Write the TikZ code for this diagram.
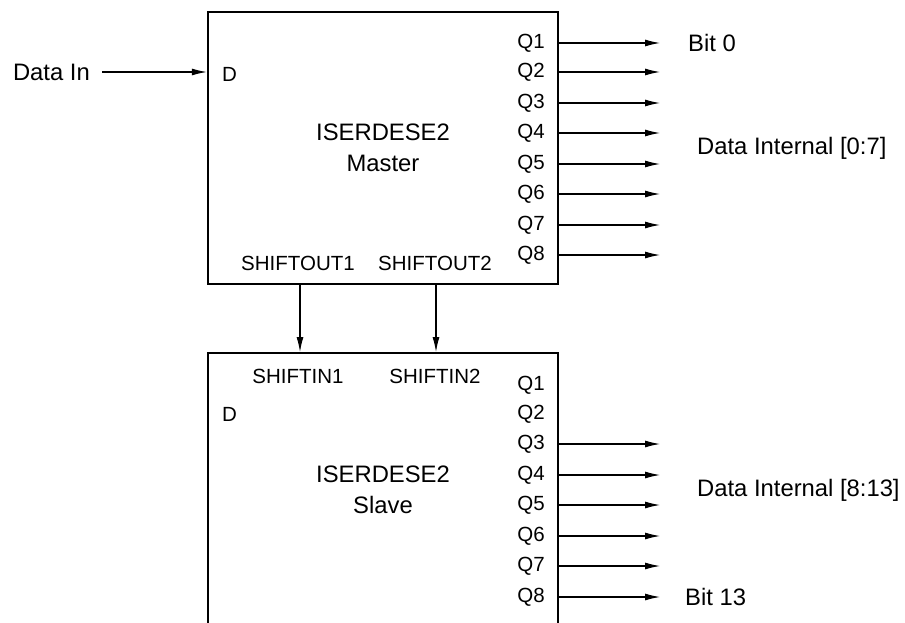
\documentclass[tikz,border=0pt]{standalone}
\usepackage{fontspec}
\setmainfont{Liberation Sans}
\usetikzlibrary{arrows.meta}
\begin{document}
\begin{tikzpicture}[x=1pt,y=-1pt,
  lbl/.style={inner sep=0pt,font=\fontsize{20.5}{23}\selectfont},
  big/.style={inner sep=0pt,font=\fontsize{23.8}{31}\selectfont,align=center},
  blk/.style={draw,line width=2.4pt},
  sig/.style={line width=1.1pt,-{Latex[length=15pt,width=7pt]}}]
\useasboundingbox (0,0) rectangle (905,623);
% master block
\node[blk,minimum width=350pt,minimum height=272pt,inner sep=0pt] (master) at (383,148) {};
\node[big] (mtext) at (383,148) {ISERDESE2\\Master};
% slave block (open at bottom)
\coordinate (sNW) at (208,353);
\coordinate (sNE) at (558,353);
\coordinate (sSW) at (208,640);
\coordinate (sSE) at (558,640);
\draw[line width=2.4pt] (sSW) -- (sNW) -- (sNE) -- (sSE);
\node[big] (stext) at (383,490) {ISERDESE2\\Slave};
% Data in
\node[big,anchor=east] (datain) at (90,72) {Data In};
\node[lbl,anchor=west] (md) at (222,74) {D};
\draw[sig,shorten <=12pt] (datain.east) -- (master.west |- datain.east);
\node[lbl,anchor=west] (sd) at (222,414) {D};
% master outputs
\foreach \i/\y in {1/43,2/72,3/103,4/133,5/164,6/194,7/225,8/255}{
  \node[lbl,anchor=east] (mq\i) at (545,\y) {Q\i};
  \coordinate (mo\i) at (660,\y);
  \draw[sig] (master.east |- mo\i) -- (mo\i);
}
% slave outputs
\foreach \i/\y in {1/385,2/414,3/444,4/475,5/505,6/536,7/566,8/597}{
  \node[lbl,anchor=east] (sq\i) at (545,\y) {Q\i};
  \coordinate (so\i) at (660,\y);
}
\foreach \i in {3,...,8}{
  \draw[sig] (sNE |- so\i) -- (so\i);
}
\node[big,anchor=west] (bit0) at (688,43) {Bit 0};
\node[big,anchor=west] (di07) at (697,148) {Data Internal [0:7]};
\node[big,anchor=west] (di813) at (697,490) {Data Internal [8:13]};
\node[big,anchor=west] (bit13) at (685,597) {Bit 13};
% shift chain
\node[lbl] (so1lbl) at (298,263) {SHIFTOUT1};
\node[lbl] (so2lbl) at (435,263) {SHIFTOUT2};
\node[lbl] (si1lbl) at (298,376) {SHIFTIN1};
\node[lbl] (si2lbl) at (435,376) {SHIFTIN2};
\coordinate (sh1top) at (300,284);
\coordinate (sh1bot) at (300,352);
\coordinate (sh2top) at (436,284);
\coordinate (sh2bot) at (436,352);
\draw[sig] (sh1top) -- (sh1bot);
\draw[sig] (sh2top) -- (sh2bot);
\end{tikzpicture}
\end{document}
